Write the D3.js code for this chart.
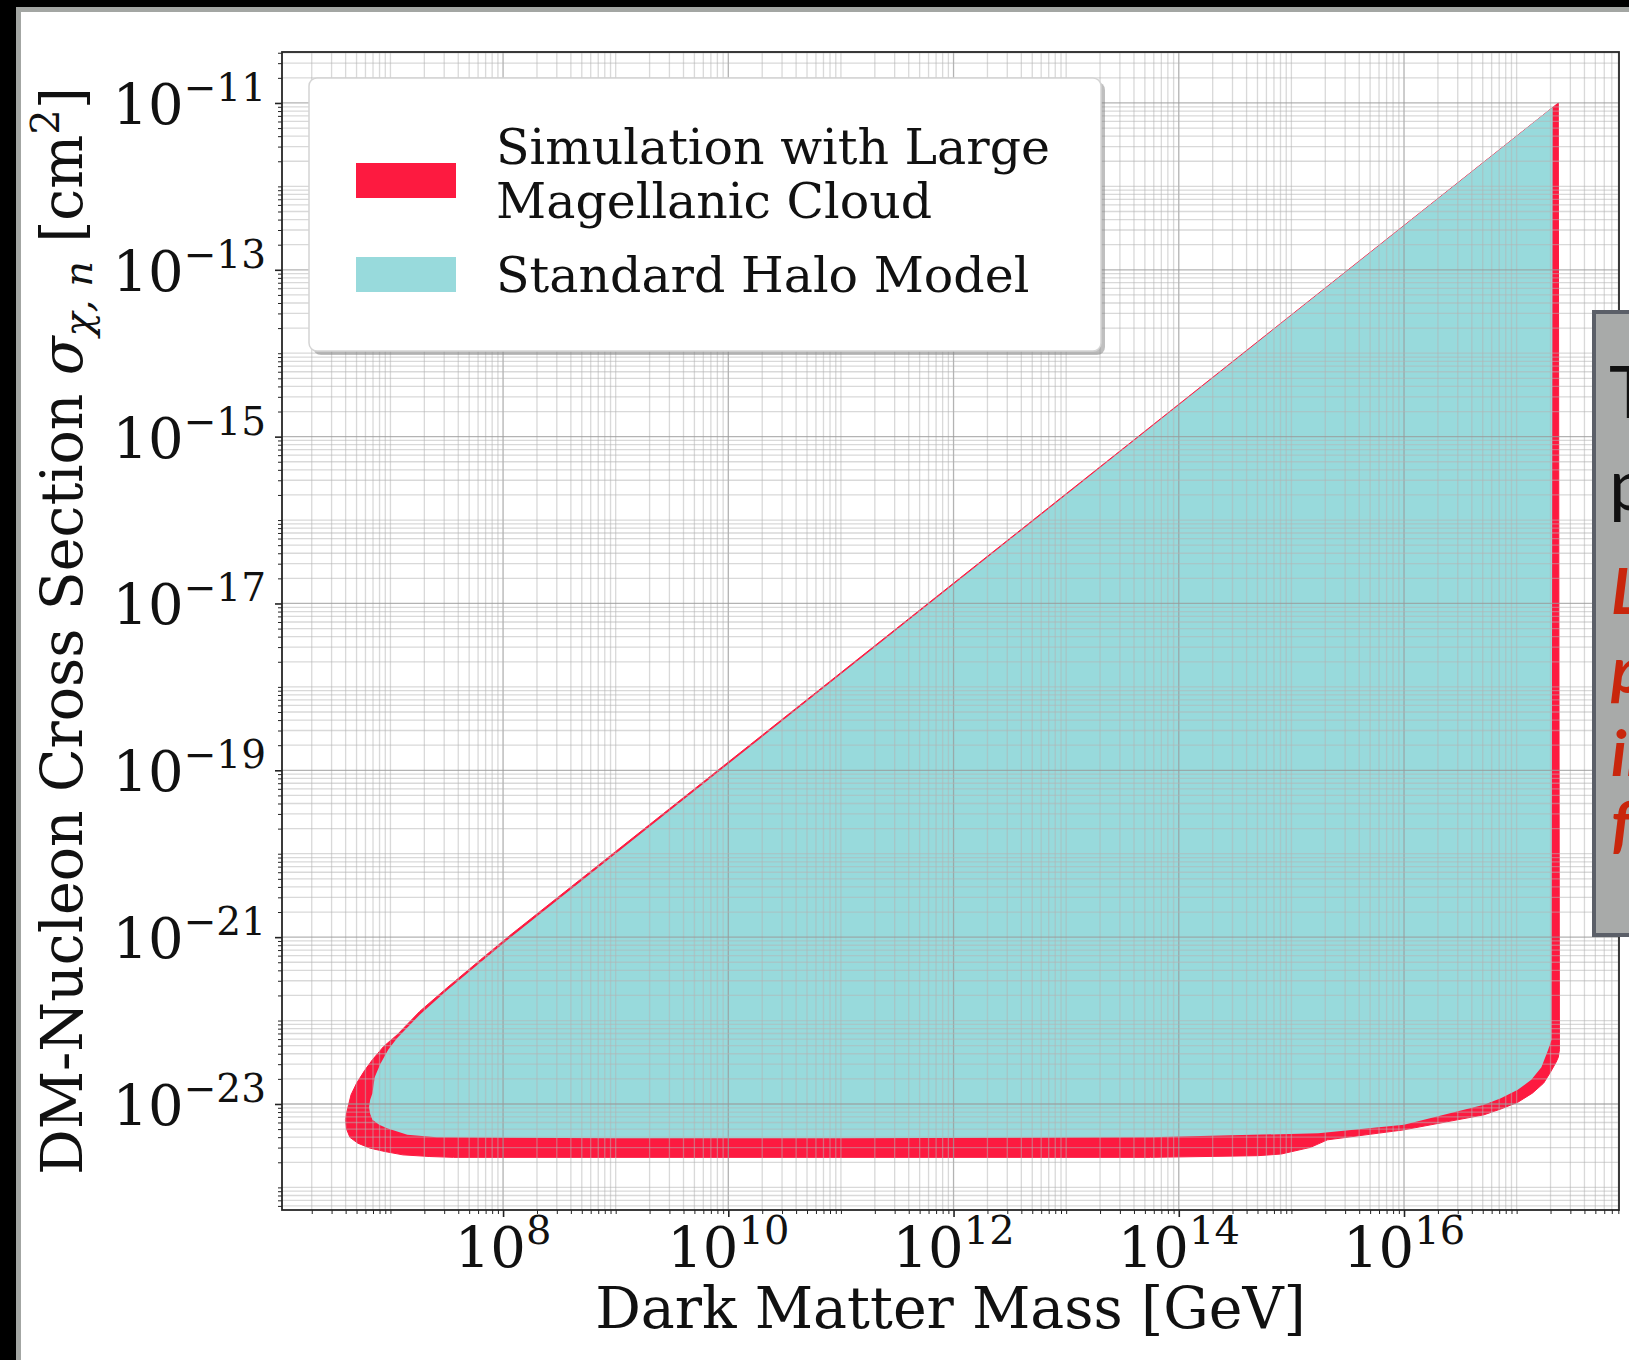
<!DOCTYPE html>
<html>
<head>
<meta charset="utf-8">
<script src="https://cdn.jsdelivr.net/npm/d3@7"></script>
<style>
  html, body { margin: 0; padding: 0; background: #ffffff; }
  svg { display: block; }
</style>
</head>
<body>
<svg id="chart" width="1629" height="1360"></svg>
<script>
// Exclusion-region boundaries, as log10(mass / GeV) and log10(sigma / cm^2).
// LMC simulation region (drawn underneath).
const lmcLogMass  = [17.37, 17.38, 17.37, 17.35, 17.30, 17.24, 17.14, 17.01, 16.86, 16.71, 16.00, 15.32, 15.17, 14.91, 14.70, 13.75, 11.00, 9.00, 7.56, 7.35, 7.11, 6.95, 6.82, 6.71, 6.64, 6.61, 6.60, 6.61, 6.65, 6.70, 6.77, 6.84, 6.94, 7.06, 7.26, 7.50, 7.80, 8.06];
const lmcLogSigma = [-11.00, -22.35, -22.44, -22.50, -22.62, -22.75, -22.87, -22.98, -23.06, -23.13, -23.31, -23.43, -23.52, -23.60, -23.62, -23.64, -23.64, -23.64, -23.64, -23.63, -23.61, -23.57, -23.53, -23.47, -23.40, -23.30, -23.19, -23.11, -22.89, -22.75, -22.60, -22.47, -22.31, -22.17, -21.89, -21.61, -21.27, -20.98];
// Standard Halo Model region (drawn on top).
const shmLogMass  = [17.32, 17.31, 17.28, 17.22, 17.13, 17.01, 16.86, 16.71, 16.00, 15.24, 13.75, 11.00, 9.00, 7.41, 7.15, 6.97, 6.90, 6.84, 6.82, 6.81, 6.82, 6.84, 6.86, 6.91, 6.98, 7.06, 7.26, 7.50, 7.80, 8.06];
const shmLogSigma = [-11.05, -22.23, -22.35, -22.56, -22.71, -22.83, -22.93, -23.01, -23.25, -23.35, -23.40, -23.41, -23.41, -23.40, -23.37, -23.29, -23.25, -23.19, -23.12, -23.04, -22.95, -22.87, -22.68, -22.52, -22.35, -22.21, -21.93, -21.64, -21.30, -21.01];

const xTickExps = [8, 10, 12, 14, 16];
const yTickExps = [-11, -13, -15, -17, -19, -21, -23];
const legendLabels = [["Simulation with Large", "Magellanic Cloud"], ["Standard Halo Model"]];
const xLabel = "Dark Matter Mass [GeV]";
const noteLines = [
  {text: "The LMC", red: false},
  {text: "produces", red: false},
  {text: "Larger", red: true},
  {text: "parameter", red: true},
  {text: "in mass", red: true},
  {text: "for", red: true}
];

const RED = "#fd1a40";
const CYAN = "#98dadc";
const SERIF = "'DejaVu Serif', serif";

const svg = d3.select("#chart");
const W = 1629, H = 1360;

// slide frame
svg.append("rect").attr("x", 0).attr("y", 0).attr("width", W).attr("height", H).attr("fill", "#ffffff");
svg.append("rect").attr("x", 16).attr("y", 7).attr("width", W - 16).attr("height", 5).attr("fill", "#a3a6a3");
svg.append("rect").attr("x", 16).attr("y", 7).attr("width", 5).attr("height", H - 7).attr("fill", "#a3a6a3");
svg.append("rect").attr("x", 0).attr("y", 0).attr("width", W).attr("height", 7).attr("fill", "#000");
svg.append("rect").attr("x", 0).attr("y", 0).attr("width", 16).attr("height", H).attr("fill", "#000");

// plot area
const plot = {left: 282, right: 1619, top: 52, bottom: 1210};
const x = d3.scaleLog().domain([Math.pow(10, 6.037), Math.pow(10, 17.909)]).range([plot.left, plot.right]);
const y = d3.scaleLog().domain([Math.pow(10, -24.271), Math.pow(10, -10.389)]).range([plot.bottom, plot.top]);

const clipId = "plotclip";
svg.append("defs").append("clipPath").attr("id", clipId)
  .append("rect").attr("x", plot.left).attr("y", plot.top)
  .attr("width", plot.right - plot.left).attr("height", plot.bottom - plot.top);

const g = svg.append("g").attr("clip-path", `url(#${clipId})`);

const toPoints = (lm, ls) => lm.map((m, i) => [Math.pow(10, m), Math.pow(10, ls[i])]);
const area = d3.line().x(d => x(d[0])).y(d => y(d[1])).curve(d3.curveLinearClosed);

g.append("path").attr("d", area(toPoints(lmcLogMass, lmcLogSigma)))
  .attr("fill", RED).attr("stroke", RED).attr("stroke-width", 1).attr("stroke-linejoin", "round");
g.append("path").attr("d", area(toPoints(shmLogMass, shmLogSigma))).attr("fill", CYAN);

// log grid: every k * 10^n inside the domain
function logValues(scale) {
  const [a, b] = scale.domain();
  const lo = Math.floor(Math.log10(Math.min(a, b))), hi = Math.ceil(Math.log10(Math.max(a, b)));
  const out = [];
  for (let n = lo; n <= hi; n++) for (let k = 1; k <= 9; k++) {
    const v = k * Math.pow(10, n);
    if (v >= Math.min(a, b) && v <= Math.max(a, b)) out.push({v, k, n});
  }
  return out;
}
const xVals = logValues(x), yVals = logValues(y);
const isXMajor = d => d.k === 1 && xTickExps.includes(d.n);
const isYMajor = d => d.k === 1 && yTickExps.includes(d.n);

const grid = g.append("g");
grid.selectAll("line.vx").data(xVals).join("line")
  .attr("x1", d => x(d.v)).attr("x2", d => x(d.v)).attr("y1", plot.top).attr("y2", plot.bottom)
  .attr("stroke", d => isXMajor(d) ? "#9a9a9a" : "#b4b4b4")
  .attr("stroke-opacity", d => isXMajor(d) ? 0.75 : 0.5).attr("stroke-width", 1.3);
grid.selectAll("line.hy").data(yVals).join("line")
  .attr("y1", d => y(d.v)).attr("y2", d => y(d.v)).attr("x1", plot.left).attr("x2", plot.right)
  .attr("stroke", d => isYMajor(d) ? "#9a9a9a" : "#b4b4b4")
  .attr("stroke-opacity", d => isYMajor(d) ? 0.75 : 0.5).attr("stroke-width", 1.3);

// axes (ticks drawn outward)
const isMajorExp = (list, d) => { const e = Math.log10(d); return list.some(t => Math.abs(t - e) < 1e-9); };
const xAxis = d3.axisBottom(x).tickValues(xVals.map(d => d.v)).tickFormat("").tickSize(4).tickSizeOuter(0);
const gx = svg.append("g").attr("transform", `translate(0,${plot.bottom})`).call(xAxis);
gx.selectAll(".tick line").attr("stroke", "#222")
  .attr("y2", d => isMajorExp(xTickExps, d) ? 7 : 4)
  .attr("stroke-width", d => isMajorExp(xTickExps, d) ? 1.6 : 1);
gx.select(".domain").remove();

const yAxis = d3.axisLeft(y).tickValues(yVals.map(d => d.v)).tickFormat("").tickSize(4).tickSizeOuter(0);
const gy = svg.append("g").attr("transform", `translate(${plot.left},0)`).call(yAxis);
gy.selectAll(".tick line").attr("stroke", "#222")
  .attr("x2", d => isMajorExp(yTickExps, d) ? -7 : -4)
  .attr("stroke-width", d => isMajorExp(yTickExps, d) ? 1.6 : 1);
gy.select(".domain").remove();

// frame
svg.append("rect").attr("x", plot.left).attr("y", plot.top)
  .attr("width", plot.right - plot.left).attr("height", plot.bottom - plot.top)
  .attr("fill", "none").attr("stroke", "#262626").attr("stroke-width", 1.8);

// tick labels 10^n
const MINUS = "\u2212";
const expText = n => (n < 0 ? MINUS + Math.abs(n) : String(n));
const xt = svg.append("g").attr("font-family", SERIF).attr("fill", "#111");
xTickExps.forEach(n => {
  const t = xt.append("text").attr("x", x(Math.pow(10, n))).attr("y", 1267)
    .attr("text-anchor", "middle").attr("font-size", 56);
  t.append("tspan").text("10");
  t.append("tspan").attr("font-size", 40).attr("dy", -23).text(expText(n));
});
yTickExps.forEach(n => {
  const t = xt.append("text").attr("x", 266).attr("y", y(Math.pow(10, n)) + 21)
    .attr("text-anchor", "end").attr("font-size", 56);
  t.append("tspan").text("10");
  t.append("tspan").attr("font-size", 39).attr("dy", -23).text(expText(n));
});

// axis titles
svg.append("text").attr("x", (plot.left + plot.right) / 2).attr("y", 1328)
  .attr("text-anchor", "middle").attr("font-family", SERIF).attr("font-size", 57).attr("fill", "#111")
  .text(xLabel);

const yl = svg.append("text").attr("transform", `translate(82,${(plot.top + plot.bottom) / 2}) rotate(-90)`)
  .attr("text-anchor", "middle").attr("font-family", SERIF).attr("font-size", 57).attr("fill", "#111");
yl.append("tspan").text("DM-Nucleon Cross Section ");
yl.append("tspan").attr("font-style", "italic").text("\u03C3");
yl.append("tspan").attr("font-style", "italic").attr("font-size", 40).attr("dy", 10).text("\u03C7, n");
yl.append("tspan").attr("dy", -10).text(" [cm");
yl.append("tspan").attr("font-size", 40).attr("dy", -23).text("2");
yl.append("tspan").attr("dy", 23).text("]");

// legend
const lg = svg.append("g");
lg.append("rect").attr("x", 313).attr("y", 82).attr("width", 792).attr("height", 273).attr("rx", 8)
  .attr("fill", "#7f7f7f").attr("opacity", 0.5);
lg.append("rect").attr("x", 309).attr("y", 78).attr("width", 792).attr("height", 273).attr("rx", 8)
  .attr("fill", "#ffffff").attr("stroke", "#d4d4d4").attr("stroke-width", 1.5);
const entries = [{color: RED, lines: legendLabels[0], patchY: 163, baseY: 164},
                 {color: CYAN, lines: legendLabels[1], patchY: 257, baseY: 292}];
entries.forEach(e => {
  lg.append("rect").attr("x", 356).attr("y", e.patchY).attr("width", 100).attr("height", 35).attr("fill", e.color);
  const t = lg.append("text").attr("font-family", SERIF).attr("font-size", 49).attr("fill", "#111");
  e.lines.forEach((s, i) => t.append("tspan").attr("x", 496).attr("y", e.baseY + i * 54).text(s));
});

// side note box (extends beyond the right edge)
const nb = svg.append("g");
nb.append("rect").attr("x", 1594).attr("y", 312).attr("width", 200).attr("height", 623)
  .attr("fill", "#a8aaa9").attr("stroke", "#5b5f68").attr("stroke-width", 4);
const noteY = [418, 510, 614, 693, 776, 847];
noteLines.forEach((l, i) => {
  nb.append("text").attr("x", l.red ? 1611 : 1609).attr("y", noteY[i])
    .attr("font-family", "Lato, 'Open Sans', sans-serif")
    .attr("font-size", l.red ? 64 : 72)
    .attr("font-weight", l.red ? "bold" : "normal")
    .attr("font-style", l.red ? "italic" : "normal")
    .attr("fill", l.red ? "#c9260c" : "#111")
    .text(l.text);
});
</script>
</body>
</html>
